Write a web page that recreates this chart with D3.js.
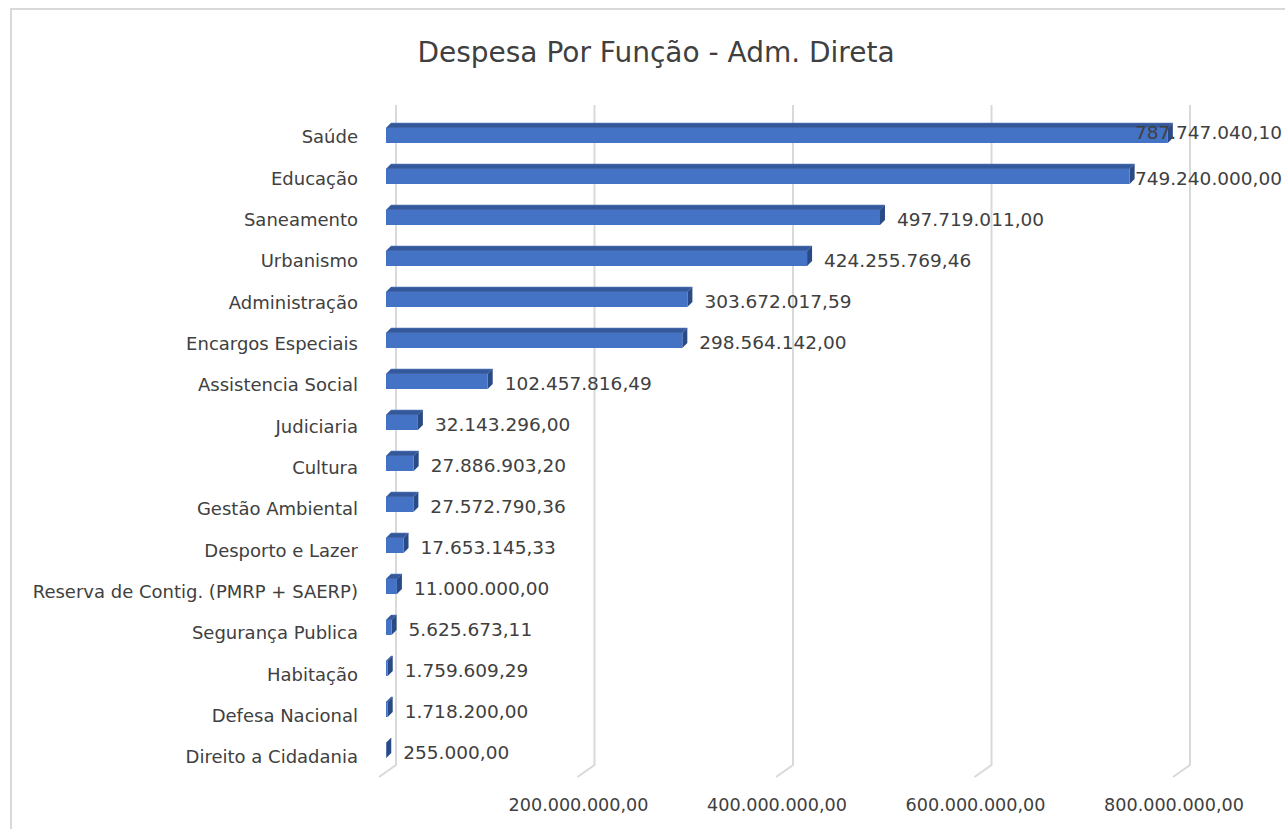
<!DOCTYPE html>
<html>
<head>
<meta charset="utf-8">
<script src="https://cdn.jsdelivr.net/npm/d3@7"></script>
<style>
  html, body { margin: 0; padding: 0; background: #fff; }
  svg { display: block; }
  text { font-family: "DejaVu Sans", sans-serif; fill: #404040; }
</style>
</head>
<body>
<svg id="chart" width="1285" height="829"></svg>
<script>
const chartTitle = "Despesa Por Função - Adm. Direta";
const categories = [
  "Saúde", "Educação", "Saneamento", "Urbanismo", "Administração",
  "Encargos Especiais", "Assistencia Social", "Judiciaria", "Cultura",
  "Gestão Ambiental", "Desporto e Lazer", "Reserva de Contig. (PMRP + SAERP)",
  "Segurança Publica", "Habitação", "Defesa Nacional", "Direito a Cidadania"
];
const values = [
  787747040.10, 749240000.00, 497719011.00, 424255769.46, 303672017.59,
  298564142.00, 102457816.49, 32143296.00, 27886903.20,
  27572790.36, 17653145.33, 11000000.00,
  5625673.11, 1759609.29, 1718200.00, 255000.00
];
const gridValues = [0, 200000000, 400000000, 600000000, 800000000];
const tickLabelValues = [200000000, 400000000, 600000000, 800000000];

const svg = d3.select("#chart");
const W = 1285, H = 829;

const locale = d3.formatLocale({ decimal: ",", thousands: ".", grouping: [3], currency: ["", ""] });
const fmt = locale.format(",.2f");

// chart border
svg.append("path")
  .attr("d", `M11,${H} L11,9 L${W},9`)
  .attr("fill", "none").attr("stroke", "#d9d9d9").attr("stroke-width", 2);

// title
svg.append("text")
  .attr("x", 656).attr("y", 62)
  .attr("text-anchor", "middle")
  .style("font-size", "28px")
  .text(chartTitle);

// scales
const x = d3.scaleLinear().domain([0, 800000000]).range([386, 1180]);
const yBar = d3.scalePoint().domain(categories).range([135.5, 750.5]);
const yLab = d3.scalePoint().domain(categories).range([137, 757]);

const wallDx = 10;     // back wall offset
const floorDx = -17, floorDy = 12;
const gridTop = 105, gridBottom = 765;
const barH = 15, depthX = 5, depthY = -5;

// gridlines (back wall + floor)
svg.append("g").selectAll("path").data(gridValues).join("path")
  .attr("d", d => {
    const gx = x(d) + wallDx;
    return `M${gx},${gridTop} L${gx},${gridBottom} L${gx + floorDx},${gridBottom + floorDy}`;
  })
  .attr("fill", "none").attr("stroke", "#d9d9d9").attr("stroke-width", 2);

// x axis tick labels
const axis = d3.axisBottom(x).tickValues(tickLabelValues).tickFormat(fmt).tickSize(0).tickPadding(0);
const ax = svg.append("g").attr("transform", `translate(${-6.5},${798})`).call(axis);
ax.select(".domain").remove();
ax.selectAll("text")
  .attr("dy", "0.75em")
  .style("font-size", "17.6px")
  .style("font-family", "DejaVu Sans, sans-serif")
  .attr("fill", "#404040");

// bars (3D)
const data = categories.map((c, i) => ({ c, v: values[i] }));
const bars = svg.append("g").selectAll("g").data(data).join("g");

// top face
bars.append("path")
  .attr("d", d => {
    const x0 = x(0), x1 = x(d.v), y0 = yBar(d.c) - barH / 2;
    return `M${x0},${y0} L${x1},${y0} L${x1 + depthX},${y0 + depthY} L${x0 + depthX},${y0 + depthY} Z`;
  })
  .attr("fill", "#34589c")
  .attr("stroke", "#6a86bd").attr("stroke-width", 0.6);

// side face
bars.append("path")
  .attr("d", d => {
    const x1 = x(d.v), y0 = yBar(d.c) - barH / 2, y1 = y0 + barH;
    return `M${x1},${y0} L${x1 + depthX},${y0 + depthY} L${x1 + depthX},${y1 + depthY} L${x1},${y1} Z`;
  })
  .attr("fill", "#2a4a86");

// front face
bars.append("rect")
  .attr("x", x(0))
  .attr("y", d => yBar(d.c) - barH / 2)
  .attr("width", d => Math.max(0, x(d.v) - x(0)))
  .attr("height", barH)
  .attr("fill", "#4472c4");

// data labels (kept inside the chart area)
svg.append("g").selectAll("text").data(data).join("text")
  .attr("dy", "0.36em")
  .style("font-size", "18.5px")
  .text(d => fmt(d.v))
  .each(function (d) {
    const tw = this.getComputedTextLength();
    let lx = x(d.v) + 17;
    let ly = yBar(d.c) + 1.5;
    const maxX = W - 3 - tw;
    if (lx > maxX) { lx = maxX; if (x(d.v) + depthX > lx) ly -= 5; }
    d3.select(this).attr("x", lx).attr("y", ly);
  });

// category labels
svg.append("g").selectAll("text").data(categories).join("text")
  .attr("x", 358)
  .attr("y", d => yLab(d))
  .attr("dy", "0.36em")
  .attr("text-anchor", "end")
  .style("font-size", "18px")
  .text(d => d);
</script>
</body>
</html>
